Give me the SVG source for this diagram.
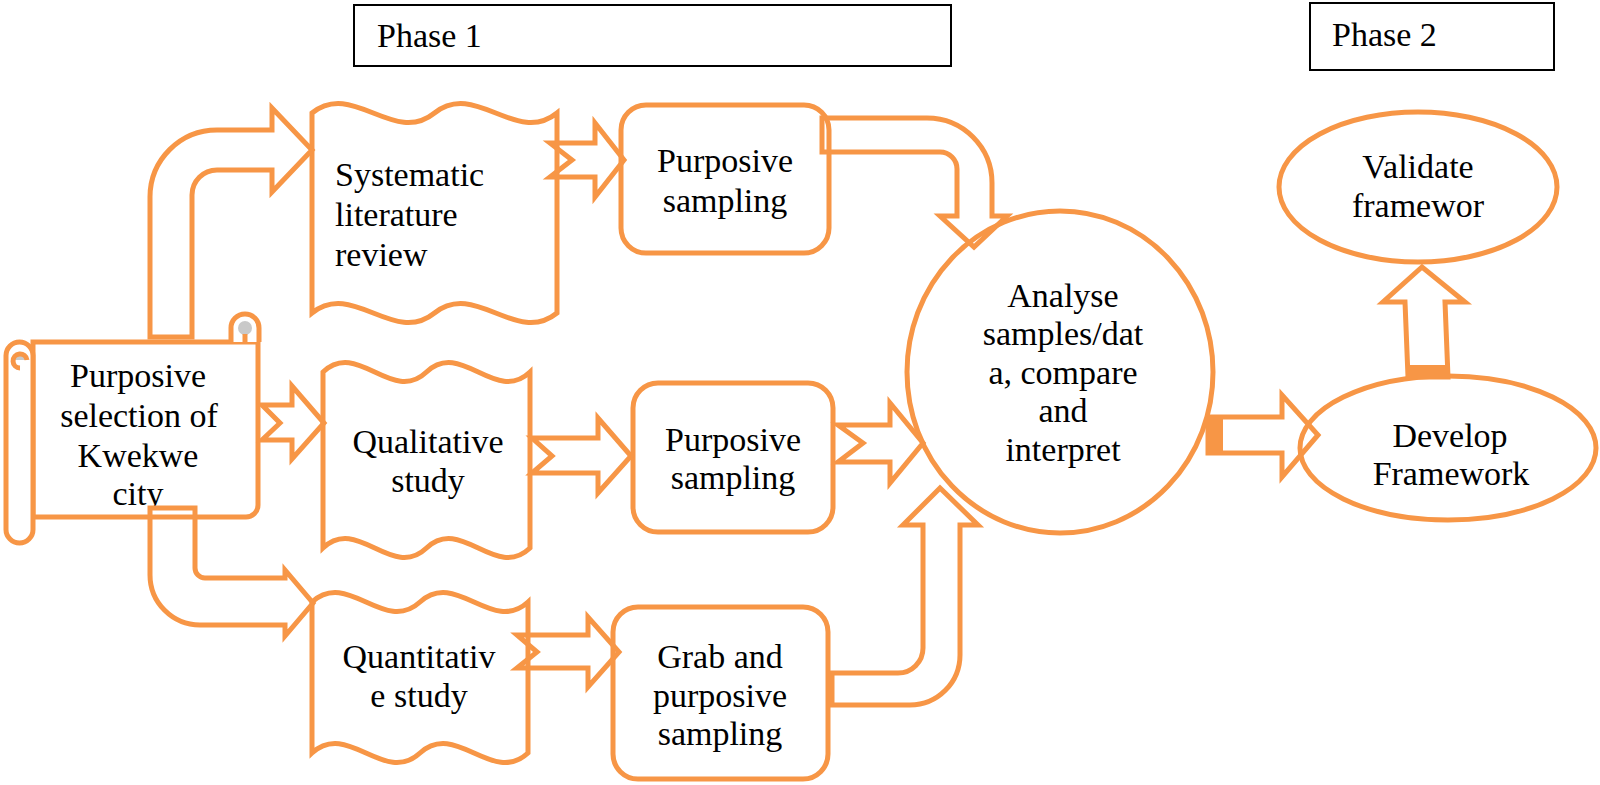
<svg xmlns="http://www.w3.org/2000/svg" width="1600" height="785" viewBox="0 0 1600 785">
<style>
.o{fill:#ffffff;stroke:#F79646;stroke-width:5;stroke-linejoin:miter}
.c{fill:none;stroke:#F79646;stroke-width:5;stroke-linejoin:miter}
.f{fill:#F79646;stroke:none}
.t{font-family:'Liberation Serif','Times New Roman',serif;font-size:34px;fill:#000000}
.m{text-anchor:middle}
.p{fill:#ffffff;stroke:#000000;stroke-width:2}
.pt{font-family:'Liberation Serif','Times New Roman',serif;font-size:34px;fill:#000000}
</style>
<defs>
<clipPath id="scrollclip"><rect x="34" y="340" width="222" height="166"/></clipPath>
</defs>
<rect width="1600" height="785" fill="#ffffff"/>

<g id="phase1">
<rect class="p" x="354" y="5" width="597" height="61"/>
<text class="pt" x="377" y="47">Phase 1</text>
</g>
<g id="phase2">
<rect class="p" x="1310" y="3" width="244" height="67"/>
<text class="pt" x="1332" y="46">Phase 2</text>
</g>

<g id="scroll">
<path class="o" d="M33,342 H258 V505 A12 12 0 0 1 246 517 H33 Z"/>
<path class="o" d="M231,342 V328 A14 14 0 0 1 259 328 V342"/>
<circle cx="245" cy="328" r="7" fill="#c9c9c9"/>
<path class="c" d="M245,342 V334" stroke-width="4"/>
<rect class="o" x="6" y="342" width="27" height="201" rx="13.5"/>
<path d="M13,360 A7 7 0 0 1 27 360 Z" fill="#c9c9c9"/>
<path class="c" d="M20,368 A7 7 0 1 1 27 360" stroke-width="4"/>
<g clip-path="url(#scrollclip)">
<text class="t m" x="138" y="387">Purposive</text>
<text class="t m" x="139" y="427">selection of</text>
<text class="t m" x="138" y="467">Kwekwe</text>
<text class="t m" x="138" y="505">city</text>
</g>
</g>

<g id="doc1">
<path class="o" d="M312,113 C352.8,80 393.7,146 434.5,113 C475.3,80 516.2,146 557,113 L557,313 C516.2,346 475.3,280 434.5,313 C393.7,346 352.8,280 312,313 Z"/>
<text class="t" x="335" y="186">Systematic</text>
<text class="t" x="335" y="226">literature</text>
<text class="t" x="335" y="266">review</text>
</g>

<g id="doc2">
<path class="o" d="M323,372 C357.5,339 392,405 426.5,372 C461,339 495.5,405 530,372 L530,548 C495.5,581 461,515 426.5,548 C392,581 357.5,515 323,548 Z"/>
<text class="t m" x="428" y="453">Qualitative</text>
<text class="t m" x="428" y="492">study</text>
</g>

<g id="doc3">
<path class="o" d="M312,602 C348,569 384,635 420,602 C456,569 492,635 528,602 L528,753 C492,786 456,720 420,753 C384,786 348,720 312,753 Z"/>
<text class="t m" x="419" y="668">Quantitativ</text>
<text class="t m" x="419" y="707">e study</text>
</g>

<g id="box1">
<rect class="o" x="621" y="105" width="208" height="148" rx="25"/>
<text class="t m" x="725" y="172">Purposive</text>
<text class="t m" x="725" y="212">sampling</text>
</g>

<g id="box2">
<rect class="o" x="633" y="383" width="200" height="149" rx="25"/>
<text class="t m" x="733" y="451">Purposive</text>
<text class="t m" x="733" y="489">sampling</text>
</g>

<g id="box3">
<rect class="o" x="613" y="607" width="215" height="172" rx="25"/>
<text class="t m" x="720" y="668">Grab and</text>
<text class="t m" x="720" y="707">purposive</text>
<text class="t m" x="720" y="745">sampling</text>
</g>

<g id="analyse">
<ellipse class="o" cx="1060" cy="372" rx="153" ry="161"/>
<text class="t m" x="1063" y="307">Analyse</text>
<text class="t m" x="1063" y="345">samples/dat</text>
<text class="t m" x="1063" y="384">a, compare</text>
<text class="t m" x="1063" y="422">and</text>
<text class="t m" x="1063" y="461">interpret</text>
</g>

<g id="validate">
<ellipse class="o" cx="1418" cy="187" rx="139" ry="75"/>
<text class="t m" x="1418" y="178">Validate</text>
<text class="t m" x="1418" y="217">framewor</text>
</g>

<g id="develop">
<ellipse class="o" cx="1448" cy="448" rx="148" ry="72"/>
<text class="t m" x="1450" y="447">Develop</text>
<text class="t m" x="1451" y="485">Framework</text>
</g>

<g id="connectors">
<path class="c" d="M150,337 V197 A67 67 0 0 1 217 130 H272 V108 L312 150 L272 192 V170 H217 A25 25 0 0 0 192 195 V337 Z"/>
<path class="c" d="M262,405 H292 V386 L324 423 L292 459 V440 H262 L280 423 Z"/>
<path class="c" d="M150,508 V575 A50 50 0 0 0 200 625 H285 V636 L313 603 L285 570 V578 H205 A10 10 0 0 1 195 568 V508 Z"/>
<path class="c" d="M550,143 H595 V123 L624 160 L595 197 V177 H550 L572 160 Z"/>
<path class="c" d="M532,438 H598 V418 L631 456 L598 493 V473 H532 L552 456 Z"/>
<path class="c" d="M517,635 H588 V617 L619 652 L588 687 V668 H517 L537 652 Z"/>
<path class="c" d="M822,118 H927 A65 65 0 0 1 992 183 V216 H1007 L974 247 L940 216 H957 V169 A17 17 0 0 0 940 152 H822 Z"/>
<path class="c" d="M838,425 H890 V403 L923 443 L890 483 V462 H838 L863 443 Z"/>
<path class="c" d="M832,705 H910 A50 50 0 0 0 960 655 V525 H978 L940 488 L903 525 H923 V648 A25 25 0 0 1 898 673 H832 Z"/>
<path class="c" d="M1208,417 H1282 V395 L1318 435 L1282 477 V453 H1208 Z"/>
<rect class="f" x="1208" y="417" width="15" height="36"/>
<path class="c" d="M1408,377 L1405,302 H1383 L1422 267 L1465 302 H1445 L1448 377 Z"/>
<rect class="f" x="1408" y="365" width="40" height="13"/>
</g>
</svg>
